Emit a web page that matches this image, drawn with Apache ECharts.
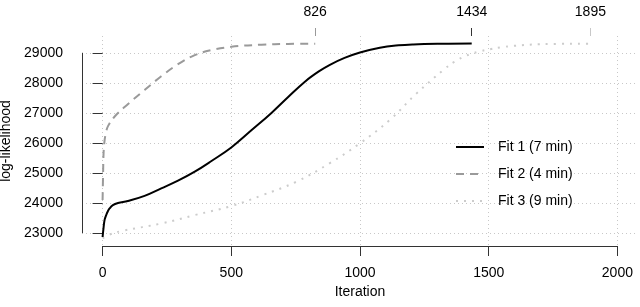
<!DOCTYPE html>
<html>
<head>
<meta charset="utf-8">
<script src="https://cdn.jsdelivr.net/npm/echarts@6/dist/echarts.min.js"></script>
<style>html,body{margin:0;padding:0;background:#fff}#c{width:640px;height:307px}</style>
</head>
<body>
<div id="c"></div>
<script>
// ---- data ----
const seriesNames = ['Fit 1 (7 min)', 'Fit 2 (4 min)', 'Fit 3 (9 min)'];
const fit1 = [[0,22870],[4,23200],[8,23450],[14,23600],[20,23720],[27,23820],[40,23930],[60,24000],[98,24070],[163,24240],[228,24490],[293,24745],[358,25045],[423,25400],[500,25850],[578,26420],[656,27000],[721,27530],[786,28040],[840,28380],[883,28600],[940,28830],[1000,29010],[1077,29170],[1150,29250],[1207,29280],[1300,29300],[1434,29310]];
const fit2 = [[0,24100],[2,25000],[4,25700],[8,26100],[14,26380],[21,26560],[47,26880],[98,27290],[163,27760],[228,28220],[293,28620],[358,28920],[423,29090],[500,29200],[617,29270],[720,29295],[826,29305]];
const fit3 = [[0,22830],[30,22960],[80,23080],[228,23320],[358,23600],[500,23900],[623,24270],[753,24710],[883,25330],[1000,25990],[1116,26770],[1220,27650],[1324,28430],[1370,28720],[1401,28860],[1430,28960],[1466,29050],[1505,29120],[1550,29185],[1596,29230],[1700,29285],[1895,29305]];
const xTicks = [0, 500, 1000, 1500, 2000];
const yTicks = [23000, 24000, 25000, 26000, 27000, 28000, 29000];
const endIters = [1434, 826, 1895];

// ---- axis ranges ----
const X_MIN = -80, X_MAX = 2080, Y_MIN = 22571, Y_MAX = 29559;

const FONT = 'Liberation Sans, Arial, sans-serif';
const colors = ['#000000', '#9a9a9a', '#cccccc'];
const dashes = ['solid', [8, 6], [2, 6]];
const tickColors = ['#333333', '#999999', '#c8c8c8'];
const plain = v => String(v);

const chart = echarts.init(document.getElementById('c'), null, {renderer: 'canvas'});

const topAxes = endIters.map((v, i) => ({
  type: 'value', position: 'top', min: X_MIN, max: X_MAX, gridIndex: 0,
  axisLine: {show: false},
  axisTick: {show: true, length: 8, customValues: [v], lineStyle: {color: tickColors[i], width: 1}},
  axisLabel: {show: true, customValues: [v], formatter: plain, margin: 17, color: '#000', fontFamily: FONT, fontSize: 14},
  splitLine: {show: false}
}));

const gridDot = {color: '#c8c8c8', width: 1, type: [1, 3]};

const option = {
  animation: false,
  backgroundColor: '#fff',
  grid: {left: 82, right: 2, top: 36, bottom: 61, containLabel: false, outerBoundsMode: 'none'},
  xAxis: [{
    type: 'value', position: 'bottom', min: X_MIN, max: X_MAX,
    name: 'Iteration', nameLocation: 'middle', nameGap: 38,
    nameTextStyle: {fontFamily: FONT, fontSize: 14, color: '#000'},
    axisLine: {show: false},
    axisTick: {show: true, length: 10, customValues: xTicks, lineStyle: {color: '#333', width: 1}},
    axisLabel: {show: true, customValues: xTicks, formatter: plain, margin: 20, color: '#000', fontFamily: FONT, fontSize: 14},
    splitLine: {show: true, lineStyle: gridDot}
  }].concat(topAxes),
  yAxis: {
    type: 'value', min: Y_MIN, max: Y_MAX,
    name: 'log-likelihood', nameLocation: 'middle', nameGap: 64,
    nameTextStyle: {fontFamily: FONT, fontSize: 14, color: '#000'},
    axisLine: {show: false},
    axisTick: {show: true, length: 10, customValues: yTicks, lineStyle: {color: '#333', width: 1}},
    axisLabel: {show: true, customValues: yTicks, formatter: plain, margin: 19, color: '#000', fontFamily: FONT, fontSize: 14},
    splitLine: {show: true, lineStyle: gridDot}
  },
  legend: {
    data: seriesNames, orient: 'vertical', left: 455, top: 140, padding: 0,
    itemWidth: 28, itemHeight: 14, itemGap: 13,
    itemStyle: {opacity: 0, borderWidth: 0},
    textStyle: {fontFamily: FONT, fontSize: 14, color: '#000', padding: [0, 0, 0, 9]}
  },
  series: [
    {name: seriesNames[0], type: 'line', data: fit1, showSymbol: false, symbol: 'none', smooth: 0.4, z: 5,
     lineStyle: {color: colors[0], width: 2, type: dashes[0]}, itemStyle: {color: colors[0]}},
    {name: seriesNames[1], type: 'line', data: fit2, showSymbol: false, symbol: 'none', smooth: 0.4, z: 4,
     lineStyle: {color: colors[1], width: 2, type: dashes[1]}, itemStyle: {color: colors[1]}},
    {name: seriesNames[2], type: 'line', data: fit3, showSymbol: false, symbol: 'none', smooth: 0.4, z: 3,
     lineStyle: {color: colors[2], width: 2, type: dashes[2]}, itemStyle: {color: colors[2]}},
    {name: 'axes', type: 'line', data: [], symbol: 'none', silent: true,
     markLine: {silent: true, symbol: 'none', animation: false, label: {show: false},
       lineStyle: {color: '#333', width: 1, type: 'solid'},
       data: [
         [{coord: [X_MIN, yTicks[0]]}, {coord: [X_MIN, yTicks[yTicks.length - 1]]}],
         [{coord: [xTicks[0], Y_MIN]}, {coord: [xTicks[xTicks.length - 1], Y_MIN]}]
       ]}}
  ]
};
chart.setOption(option);
</script>
</body>
</html>
